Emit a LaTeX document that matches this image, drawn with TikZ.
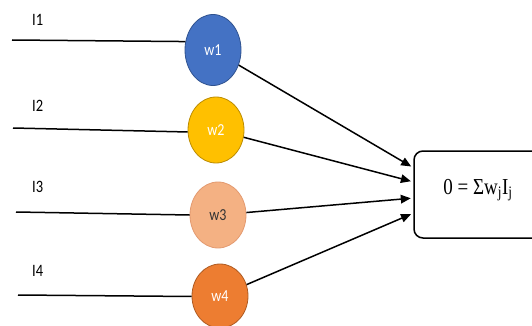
\documentclass[tikz,border=0pt]{standalone}
\usepackage{fontspec}
\setmainfont{Carlito}
\newfontfamily\formulafont{Liberation Serif}
\usetikzlibrary{shapes.geometric,arrows.meta}
% text is drawn slightly taller than wide
\newcommand\vstr[1]{\scalebox{1}[1.2]{#1}}
\definecolor{nblue}{HTML}{4472C4}
\definecolor{nblueD}{HTML}{2F528F}
\definecolor{nyellow}{HTML}{FFC000}
\definecolor{nyellowD}{HTML}{BC8C00}
\definecolor{npeach}{HTML}{F4B183}
\definecolor{npeachD}{HTML}{E39A70}
\definecolor{norange}{HTML}{ED7D31}
\definecolor{norangeD}{HTML}{AE5A21}
\tikzset{
  weight/.style={ellipse, inner sep=0pt, minimum width=56pt, line width=0.8pt,
                 font=\fontsize{14}{15}\selectfont},
  inlabel/.style={anchor=west, inner sep=0pt, font=\fontsize{14.5}{15}\selectfont},
  wire/.style={line width=1.5pt, black},
  feed/.style={line width=1.5pt, black, -{Triangle[length=10pt,width=8.5pt]}, shorten >=3pt},
  sumbox/.style={draw, line width=1.5pt, rounded corners=9pt, fill=white}
}
\begin{document}
\begin{tikzpicture}[x=1pt, y=-1pt]
\useasboundingbox (0,0) rectangle (532,326);

% weights
\node[weight, minimum height=71pt, fill=nblue, draw=nblueD, text=white] (w1) at (213,50) {\vstr{w1}};
\node[weight, minimum height=66pt, fill=nyellow, draw=nyellowD, text=white] (w2) at (216,130) {\vstr{w2}};
\node[weight, minimum height=66pt, fill=npeach, draw=npeachD, text=black!80] (w3) at (218,215) {\vstr{w3}};
\node[weight, minimum height=64pt, fill=norange, draw=norangeD, text=white] (w4) at (220,296) {\vstr{w4}};

% input labels
\node[inlabel] (l1) at (32,20) {\vstr{I1}};
\node[inlabel] (l2) at (32,106) {\vstr{I2}};
\node[inlabel] (l3) at (32,187) {\vstr{I3}};
\node[inlabel] (l4) at (32,271) {\vstr{I4}};

% loose ends of the input wires
\coordinate (i1) at (12,40);
\coordinate (i2) at (13,128);
\coordinate (i3) at (16,212);
\coordinate (i4) at (18,295);

\draw[wire] (i1) -- (w1.163);
\draw[wire] (i2) -- (w2.184);
\draw[wire] (i3) -- (w3.west);
\draw[wire] (i4) -- (w4.181);

% summation unit
\path[sumbox] (414,151) rectangle (550,238);
\node[inner sep=0pt, minimum width=136pt, minimum height=87pt] (sum) at (482,194.5) {};
\node[inner sep=0pt, font=\formulafont\fontsize{19}{20}\selectfont] (f) at (478,190)
  {\vstr{0 = Σw\textsubscript{j}I\textsubscript{j}}};

% weighted inputs into the unit
\draw[feed] (w1) -- ([yshift=26.5pt]sum.west);
\draw[feed] (w2) -- ([yshift=12.5pt]sum.west);
\draw[feed] (w3) -- ([yshift=-3.5pt]sum.west);
\draw[feed] (w4) -- ([yshift=-18.5pt]sum.west);
\end{tikzpicture}
\end{document}
